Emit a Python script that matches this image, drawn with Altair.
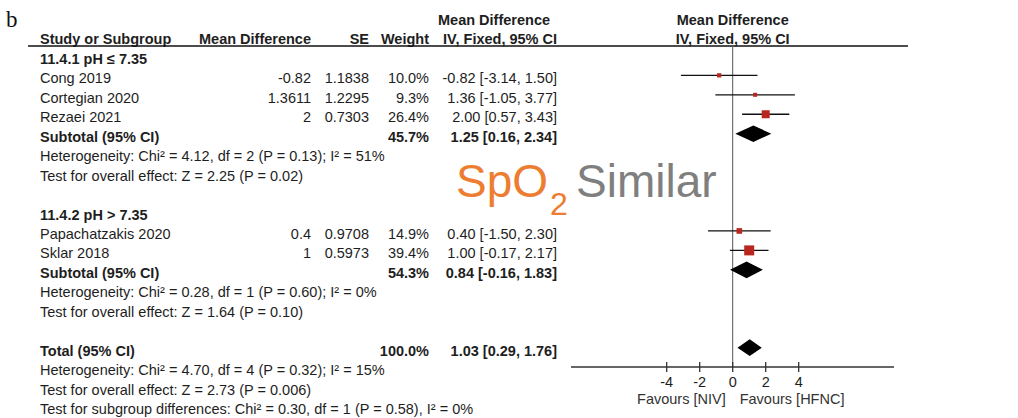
import altair as alt
import pandas as pd

# ---------------- data ----------------
study_names = ["Cong 2019", "Cortegian 2020", "Rezaei 2021", "Papachatzakis 2020", "Sklar 2018"]
study_rows = [3, 4, 5, 11, 12]
md_text = ["-0.82", "1.3611", "2", "0.4", "1"]
se_text = ["1.1838", "1.2295", "0.7303", "0.9708", "0.5973"]
weights = [10.0, 9.3, 26.4, 14.9, 39.4]
est = [-0.82, 1.36, 2.00, 0.40, 1.00]
ci_lo = [-3.14, -1.05, 0.57, -1.50, -0.17]
ci_hi = [1.50, 3.77, 3.43, 2.30, 2.17]

sum_labels = ["Subtotal (95% CI)", "Subtotal (95% CI)", "Total (95% CI)"]
sum_rows = [6, 13, 17]
sum_weights = [45.7, 54.3, 100.0]
sum_est = [1.25, 0.84, 1.03]
sum_lo = [0.16, -0.16, 0.29]
sum_hi = [2.34, 1.83, 1.76]

group_labels = ["11.4.1 pH \u2264 7.35", "11.4.2 pH > 7.35"]
group_rows = [2, 10]

stat_lines = [
    "Heterogeneity: Chi\u00b2 = 4.12, df = 2 (P = 0.13); I\u00b2 = 51%",
    "Test for overall effect: Z = 2.25 (P = 0.02)",
    "Heterogeneity: Chi\u00b2 = 0.28, df = 1 (P = 0.60); I\u00b2 = 0%",
    "Test for overall effect: Z = 1.64 (P = 0.10)",
    "Heterogeneity: Chi\u00b2 = 4.70, df = 4 (P = 0.32); I\u00b2 = 15%",
    "Test for overall effect: Z = 2.73 (P = 0.006)",
    "Test for subgroup differences: Chi\u00b2 = 0.30, df = 1 (P = 0.58), I\u00b2 = 0%",
]
stat_rows = [7, 8, 14, 15, 18, 19, 20]

header_labels = ["Study or Subgroup", "Mean Difference", "SE", "Weight", "IV, Fixed, 95% CI"]
plot_header = ["Mean Difference", "IV, Fixed, 95% CI"]
tick_values = [-4, -2, 0, 2, 4]
favours = ["Favours [NIV]", "Favours [HFNC]"]
annotation = ["SpO", "2", "Similar"]
panel_letter = "b"

# ---------------- tables ----------------
def ci_str(e, l, h):
    return f"{e:.2f} [{l:.2f}, {h:.2f}]"

rows = []
rows.append(dict(row=1, label=header_labels[0], md=header_labels[1], se=header_labels[2],
                 w=header_labels[3], ci=header_labels[4], bold=True))
for r, lab in zip(group_rows, group_labels):
    rows.append(dict(row=r, label=lab, md="", se="", w="", ci="", bold=True))
for i in range(len(study_names)):
    rows.append(dict(row=study_rows[i], label=study_names[i], md=md_text[i], se=se_text[i],
                     w=f"{weights[i]:.1f}%", ci=ci_str(est[i], ci_lo[i], ci_hi[i]), bold=False))
for i in range(len(sum_labels)):
    rows.append(dict(row=sum_rows[i], label=sum_labels[i], md="", se="",
                     w=f"{sum_weights[i]:.1f}%", ci=ci_str(sum_est[i], sum_lo[i], sum_hi[i]), bold=True))
for r, s in zip(stat_rows, stat_lines):
    rows.append(dict(row=r, label=s, md="", se="", w="", ci="", bold=False))
table = pd.DataFrame(rows)

studies = pd.DataFrame(dict(row=study_rows, est=est, lo=ci_lo, hi=ci_hi, w=weights))

H = 0.427  # diamond half height in row units
dia = []
for k in range(len(sum_rows)):
    r = sum_rows[k]
    dia.append(dict(g=k, x=sum_lo[k], y1=r, y2=r))
    dia.append(dict(g=k, x=sum_est[k], y1=r - H, y2=r + H))
    dia.append(dict(g=k, x=sum_hi[k], y1=r, y2=r))
diamonds = pd.DataFrame(dia)

ticks = pd.DataFrame(dict(v=tick_values, t=[str(v) for v in tick_values]))
zero = pd.DataFrame(dict(v=[0]))
ph = pd.DataFrame(dict(row=[0, 1], t=plot_header))

# ---------------- scales / style ----------------
FONT = "Liberation Sans"
TXT = "#1e1e1e"
FS = 14.5
xscale = alt.Scale(domain=[-10, 10], range=[567.7, 897.7])
yscale = alt.Scale(domain=[0, 20], range=[20, 409])
Y = alt.Y("row:Q", scale=yscale, axis=None)


def col(field, x, align, bold):
    return alt.Chart(table).transform_filter(
        f"datum.bold == {'true' if bold else 'false'}"
    ).mark_text(
        align=align, baseline="alphabetic", dy=5, fontSize=FS, font=FONT,
        fontWeight="bold" if bold else "normal", color=TXT,
    ).encode(x=alt.value(x), y=Y, text=f"{field}:N")


layers = []
for bold in (False, True):
    layers += [
        col("label", 40, "left", bold),
        col("md", 311, "right", bold),
        col("se", 369, "right", bold),
        col("w", 429, "right", bold),
        col("ci", 557, "right", bold),
    ]

# header row 0 above CI column
layers.append(
    alt.Chart(pd.DataFrame(dict(row=[0], t=[plot_header[0]]))).mark_text(
        align="center", baseline="alphabetic", dy=5, fontSize=FS, font=FONT,
        fontWeight="bold", color=TXT,
    ).encode(x=alt.value(494), y=Y, text="t:N")
)
# plot headers centred at 0
layers.append(
    alt.Chart(ph).mark_text(
        align="center", baseline="alphabetic", dy=5, fontSize=FS, font=FONT,
        fontWeight="bold", color=TXT,
    ).encode(x=alt.X("v:Q", scale=xscale, axis=None), y=Y, text="t:N").transform_calculate(v="0")
)

# header underline
layers.append(
    alt.Chart(zero).mark_rule(color="#111", strokeWidth=1.5).encode(
        x=alt.value(28), x2=alt.value(908), y=alt.value(46))
)
# zero line
layers.append(
    alt.Chart(zero).mark_rule(color="#555", strokeWidth=1).encode(
        x=alt.X("v:Q", scale=xscale, axis=None), y=alt.value(46), y2=alt.value(367))
)
# axis line
layers.append(
    alt.Chart(zero).mark_rule(color="#333", strokeWidth=1.5).encode(
        x=alt.value(571), x2=alt.value(894), y=alt.value(367))
)
layers.append(
    alt.Chart(ticks).mark_rule(color="#333", strokeWidth=1.3).encode(
        x=alt.X("v:Q", scale=xscale, axis=None), y=alt.value(362), y2=alt.value(372))
)
layers.append(
    alt.Chart(ticks).mark_text(fontSize=FS, font=FONT, color=TXT, baseline="alphabetic").encode(
        x=alt.X("v:Q", scale=xscale, axis=None), y=alt.value(387), text="t:N")
)
fav = pd.DataFrame(dict(v=[0, 0], t=favours, side=[-1, 1]))
layers.append(
    alt.Chart(fav).transform_filter("datum.side < 0").mark_text(
        fontSize=FS, font=FONT, color="#333", align="right", dx=-7, baseline="alphabetic").encode(
        x=alt.X("v:Q", scale=xscale, axis=None), y=alt.value(404), text="t:N")
)
layers.append(
    alt.Chart(fav).transform_filter("datum.side > 0").mark_text(
        fontSize=FS, font=FONT, color="#333", align="left", dx=7, baseline="alphabetic").encode(
        x=alt.X("v:Q", scale=xscale, axis=None), y=alt.value(404), text="t:N")
)

# CI lines
layers.append(
    alt.Chart(studies).mark_rule(color="#111", strokeWidth=1.3, yOffset=-3).encode(
        x=alt.X("lo:Q", scale=xscale, axis=None), x2="hi:Q", y=Y)
)
# squares
layers.append(
    alt.Chart(studies).mark_square(color="#B8261E", opacity=1, yOffset=-3).encode(
        x=alt.X("est:Q", scale=xscale, axis=None), y=Y,
        size=alt.Size("w:Q", scale=alt.Scale(domain=[9.3, 39.4], range=[16, 100]), legend=None))
)
# diamonds
layers.append(
    alt.Chart(diamonds).mark_area(color="black", opacity=1, yOffset=-3, y2Offset=-3).encode(
        x=alt.X("x:Q", scale=xscale, axis=None),
        y=alt.Y("y1:Q", scale=yscale, axis=None), y2="y2:Q", detail="g:N")
)

# annotation
ann = pd.DataFrame(dict(t=annotation, k=[0, 1, 2]))
layers.append(
    alt.Chart(ann).transform_filter("datum.k == 0").mark_text(
        fontSize=46, font=FONT, color="#ED7D31", align="left", baseline="alphabetic").encode(
        x=alt.value(456), y=alt.value(197), text="t:N")
)
layers.append(
    alt.Chart(ann).transform_filter("datum.k == 1").mark_text(
        fontSize=32, font=FONT, color="#ED7D31", align="left", baseline="alphabetic").encode(
        x=alt.value(550), y=alt.value(215), text="t:N")
)
layers.append(
    alt.Chart(ann).transform_filter("datum.k == 2").mark_text(
        fontSize=46, font=FONT, color="#7F7F7F", align="left", baseline="alphabetic").encode(
        x=alt.value(576), y=alt.value(197), text="t:N")
)
# panel letter
layers.append(
    alt.Chart(pd.DataFrame(dict(t=[panel_letter]))).mark_text(
        fontSize=23, font="Liberation Serif", color="#111", align="left", baseline="alphabetic").encode(
        x=alt.value(6), y=alt.value(27), text="t:N")
)

chart = alt.layer(*layers).properties(
    width=1018, height=418, padding=0,
    autosize=alt.AutoSizeParams(type="none"),
    background="white",
).configure_view(stroke=None)

chart.save("out.html", embed_options={"renderer": "svg", "actions": False})
